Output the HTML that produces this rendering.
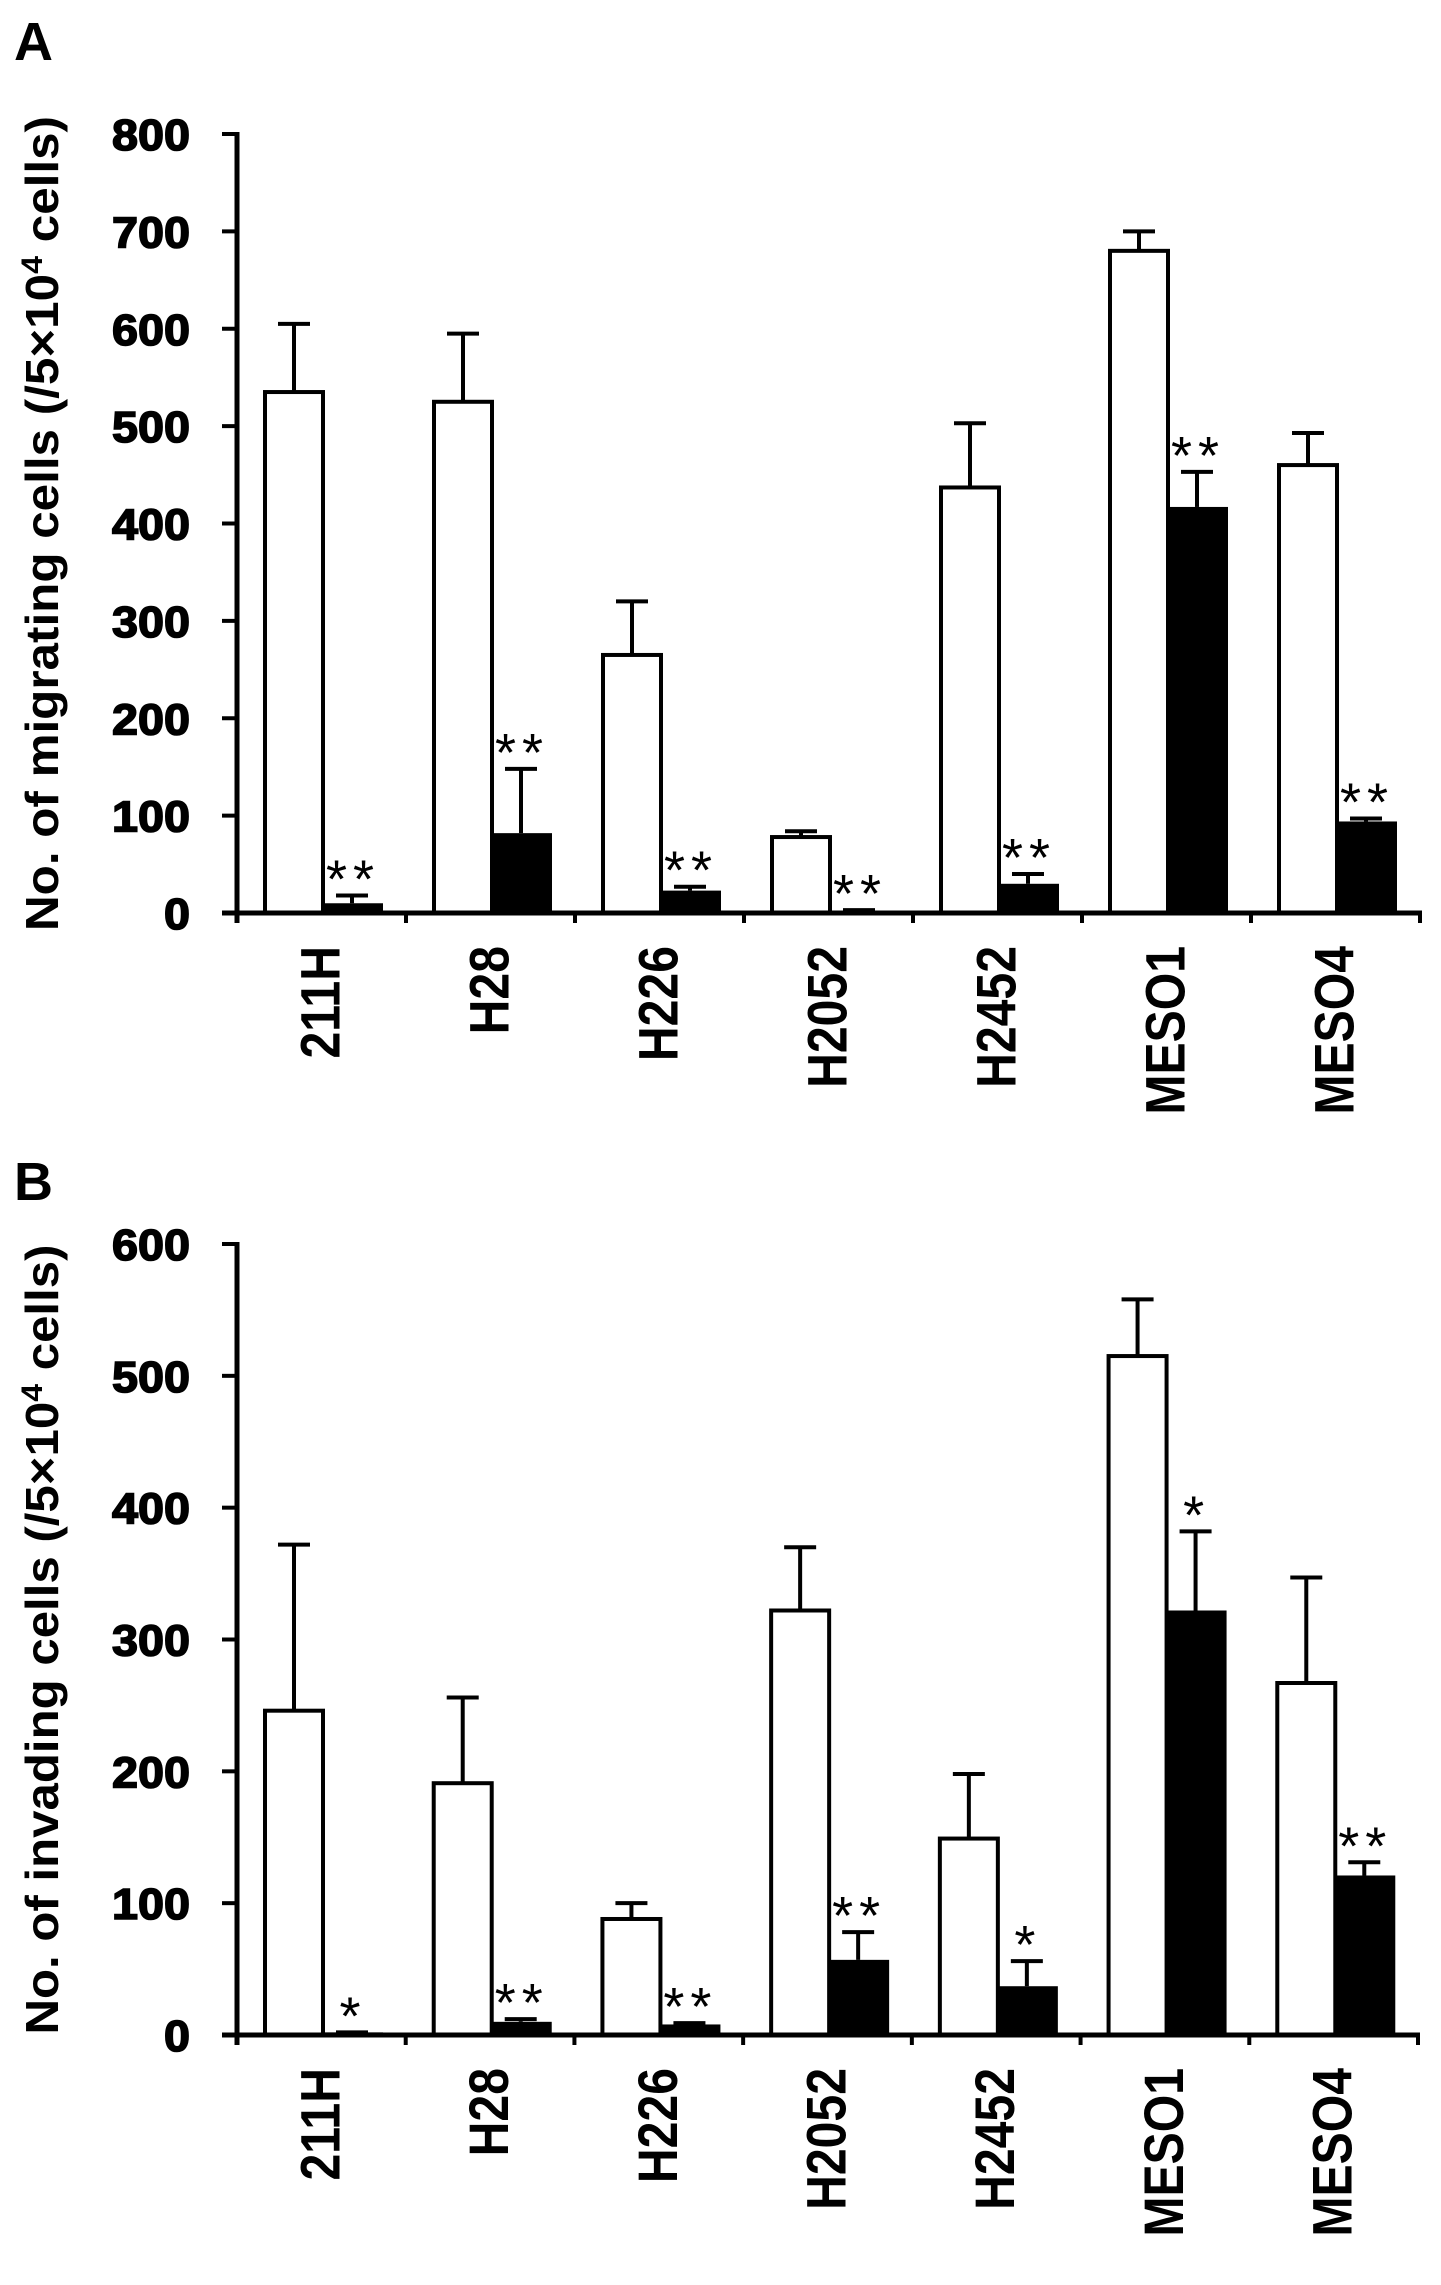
<!DOCTYPE html>
<html><head><meta charset="utf-8"><style>
html,body{margin:0;padding:0;background:#fff;}
svg{display:block;}
</style></head><body>
<svg id="fig" width="1441" height="2285" viewBox="0 0 1441 2285" xmlns="http://www.w3.org/2000/svg"></svg>
<script>
const categories = ["211H","H28","H226","H2052","H2452","MESO1","MESO4"];
// Panel A (migration)
const aControl = [535,525,265,78,437,680,460];
const aControlErr = [605,595,320,84,503,700,493];
const aTreated = [10,82,23,2,30,417,94];
const aTreatedErr = [18,148,27,3,40,453,97];
const aSig = ["**","**","**","**","**","**","**"];
const aTicks = [0,100,200,300,400,500,600,700,800];
// Panel B (invasion)
const bControl = [246,191,88,322,149,515,267];
const bControlErr = [372,256,100,370,198,558,347];
const bTreated = [2,10,8,57,37,322,121];
const bTreatedErr = [2,12,9,78,56,382,131];
const bSig = ["*","**","**","**","*","*","**"];
const bTicks = [0,100,200,300,400,500,600];

const NS="http://www.w3.org/2000/svg";
const svg=document.getElementById('fig');
function mk(tag,attrs,parent){const e=document.createElementNS(NS,tag);for(const k in attrs)e.setAttribute(k,attrs[k]);(parent||svg).appendChild(e);return e;}

function panel(cfg){
  const g=mk('g',{});
  
  
  const x0=237,x1=cfg.xEnd,yTop=cfg.yTop,yBot=cfg.yBot,max=cfg.max;
  const y=v=>yBot-(v/max)*(yBot-yTop);
  const step=(x1-x0)/categories.length;
  const L=mk('text',{x:14,y:cfg.letterY,'font-family':'Liberation Sans, sans-serif','font-weight':'bold','font-size':54},g);
  L.textContent=cfg.letter;
  
  
  const cy=(yTop+yBot)/2;
  const t=mk('text',{x:0,y:0,transform:`translate(58,${cy}) rotate(-90)`,'text-anchor':'middle','font-family':'Liberation Sans Narrow, Liberation Sans, sans-serif','font-weight':'bold','font-size':46,textLength:cfg.titleLen,lengthAdjust:'spacingAndGlyphs'},g);
  t.innerHTML=cfg.title+' (/5×10<tspan dy="-16" font-size="30">4</tspan><tspan dy="16"> cells)</tspan>';
  
  
  cfg.ticks.forEach(v=>{
    const ln=mk('line',{x1:x0-15,x2:x0,y1:y(v),y2:y(v),stroke:'#000','stroke-width':4},g);
    
    
    const s=String(v);
    const tx=mk('text',{x:190,y:y(v)+16,'text-anchor':'end','font-family':'Liberation Sans, sans-serif','font-weight':'bold','font-size':44,stroke:'#000','stroke-width':1.6,textLength:s.length*26,lengthAdjust:'spacingAndGlyphs'},g);
    tx.textContent=s;
    
    
  });
  categories.forEach((c,i)=>{
    const gx=x0+i*step;
    const wx=gx+28, bx=gx+86, bw=58;
    let e=mk('line',{x1:wx+bw/2,x2:wx+bw/2,y1:y(cfg.ctrl[i]),y2:y(cfg.ctrlErr[i]),stroke:'#000','stroke-width':4},g);
    
    
    e=mk('line',{x1:wx+bw/2-16,x2:wx+bw/2+16,y1:y(cfg.ctrlErr[i]),y2:y(cfg.ctrlErr[i]),stroke:'#000','stroke-width':4},g);
    
    
    const r=mk('rect',{x:wx,y:y(cfg.ctrl[i]),width:bw,height:yBot-y(cfg.ctrl[i]),fill:'#fff',stroke:'#000','stroke-width':4},g);
    
    
    e=mk('line',{x1:bx+bw/2,x2:bx+bw/2,y1:y(cfg.trt[i]),y2:y(cfg.trtErr[i]),stroke:'#000','stroke-width':4},g);
    
    
    e=mk('line',{x1:bx+bw/2-16,x2:bx+bw/2+16,y1:y(cfg.trtErr[i]),y2:y(cfg.trtErr[i]),stroke:'#000','stroke-width':4},g);
    
    
    const b=mk('rect',{x:bx,y:y(cfg.trt[i]),width:bw+2,height:Math.max(yBot-y(cfg.trt[i]),3),fill:'#000'},g);
    
    
    const s=mk('text',{x:bx+bw/2+1,y:y(cfg.trtErr[i])+2,'text-anchor':'middle','font-family':'Liberation Sans, sans-serif','font-size':54,'letter-spacing':'6'},g);
    s.textContent=cfg.sig[i];
    
    
    const lx=gx+step/2+18;
    const cl=mk('text',{x:0,y:0,transform:`translate(${lx},${yBot+33}) rotate(-90) scale(0.86,1)`,'text-anchor':'end','font-family':'Liberation Sans Narrow, Liberation Sans, sans-serif','font-weight':'bold','font-size':56},g);
    cl.textContent=c;
    
    
    const tk=mk('line',{x1:gx,x2:gx,y1:yBot,y2:yBot+10,stroke:'#000','stroke-width':4},g);
    
    
  });
  const tk=mk('line',{x1:x1,x2:x1,y1:yBot,y2:yBot+10,stroke:'#000','stroke-width':4},g);
  
  
  const ya=mk('line',{x1:x0,x2:x0,y1:yTop-2,y2:yBot+10,stroke:'#000','stroke-width':5},g);
  
  
  const xa=mk('line',{x1:x0-15,x2:x1+2,y1:yBot,y2:yBot,stroke:'#000','stroke-width':5},g);
  
  
}
panel({name:'panel-a-migration-chart',letter:'A',letterY:60,title:'No. of migrating cells',titleLen:815,ticks:aTicks,max:800,yTop:134,yBot:913,xEnd:1420,ctrl:aControl,ctrlErr:aControlErr,trt:aTreated,trtErr:aTreatedErr,sig:aSig});
panel({name:'panel-b-invasion-chart',letter:'B',letterY:1200,title:'No. of invading cells',titleLen:790,ticks:bTicks,max:600,yTop:1244,yBot:2035,xEnd:1418,ctrl:bControl,ctrlErr:bControlErr,trt:bTreated,trtErr:bTreatedErr,sig:bSig});
</script>
</body></html>
